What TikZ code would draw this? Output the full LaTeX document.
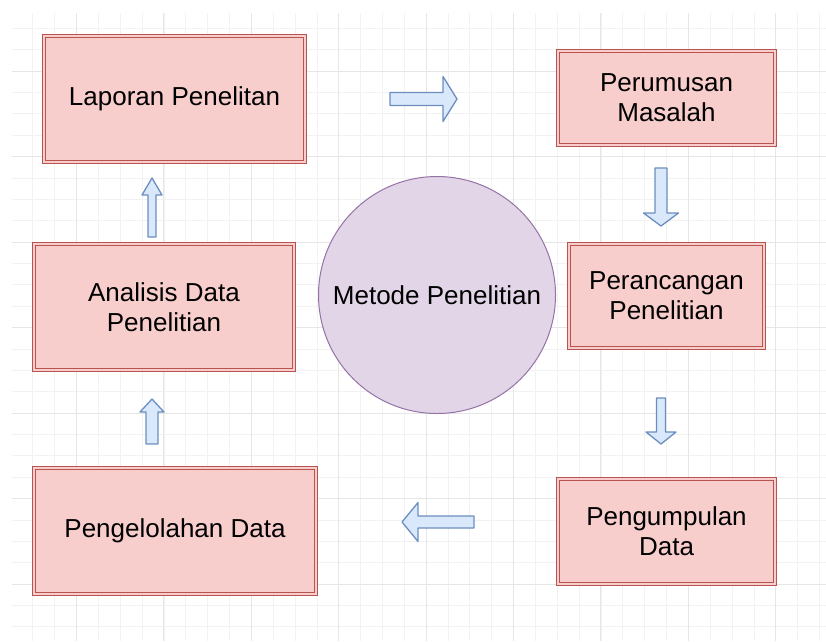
\documentclass[tikz,border=0pt]{standalone}
\usepackage{fontspec}
\setmainfont{Liberation Sans}
\usepackage{tikz}
\usetikzlibrary{positioning}
\definecolor{boxfill}{HTML}{F8CECC}
\definecolor{boxline}{HTML}{B85450}
\definecolor{circfill}{HTML}{E1D5E7}
\definecolor{circline}{HTML}{9673A6}
\definecolor{arrfill}{HTML}{DAE8FC}
\definecolor{arrline}{HTML}{6C8EBF}
\definecolor{gridmajor}{HTML}{E6E6E6}
\definecolor{gridminor}{HTML}{F2F2F2}
\tikzset{
    stepbox/.style={draw=boxline, line width=1.2pt, double=boxfill, double distance=2pt,
        fill=boxfill, align=center, inner sep=0pt, font=\fontsize{26}{30}\selectfont},
    methodcirc/.style={circle, draw=circline, line width=1pt, fill=circfill, minimum size=237pt,
        inner sep=0pt, font=\fontsize{26}{30}\selectfont},
    barrow/.style={draw=arrline, fill=arrfill, line width=1.3pt, line join=round},
}
% block arrow: length, shaft, head width, head length
\newcommand{\blockarrow}[5][]{%
    \draw[barrow, #1](0, -#3/2)--(#2-#5, -#3/2)--(#2-#5, -#4/2)--(#2, 0)--(#2-#5, #4/2)--(#2-#5, #3/2)--(0, #3/2)--cycle;}

\begin{document}
\begin{tikzpicture}[x=1pt, y=-1pt]
    \useasboundingbox (0, 0) rectangle (826, 641);
    % grid
    \begin{scope}
        \clip (12, 13) rectangle (826, 641);
        \foreach \i in {0,...,38}
            \draw[gridminor, line width=0.8pt](11+\i*21.85, 13)--(11+\i*21.85, 641);
        \foreach \i in {0,...,30}
            \draw[gridminor, line width=0.8pt](12, 6.9+\i*21.375)--(826, 6.9+\i*21.375);
        \foreach \i in {0,...,9}
            \draw[gridmajor, line width=1pt](76.5+\i*87.4, 13)--(76.5+\i*87.4, 641);
        \foreach \i in {0,...,7}
            \draw[gridmajor, line width=1pt](12, 71+\i*85.5)--(826, 71+\i*85.5);
    \end{scope}

    \node[stepbox, minimum width=261pt, minimum height=126pt] (laporan) at (174.5, 99) {Laporan Penelitan};
    \node[stepbox, minimum width=217pt, minimum height=94pt] (rumusan) at (666.5, 98) {Perumusan\\Masalah};
    \node[stepbox, minimum width=195pt, minimum height=104pt] (rancang) at (666.5, 296) {Perancangan\\Penelitian};
    \node[stepbox, minimum width=260pt, minimum height=126pt] (analisis) at (164, 307) {Analisis Data\\Penelitian};
    \node[stepbox, minimum width=282pt, minimum height=126pt] (olah) at (175, 531) {Pengelolahan Data};
    \node[stepbox, minimum width=217pt, minimum height=105pt] (kumpul) at (666.5, 531.5) {Pengumpulan\\Data};
    \node[methodcirc] (metode) at (437, 295) {Metode Penelitian};

    \blockarrow[shift={(390, 99)}]{67}{13}{45}{14}
    \blockarrow[shift={(661, 168)}, rotate=-90]{58}{12}{35}{13}
    \blockarrow[shift={(661, 398)}, rotate=-90]{46}{9}{30}{12}
    \blockarrow[shift={(474, 522)}, rotate=180]{72}{12}{39}{16}
    \blockarrow[shift={(152, 444)}, rotate=90]{45}{12}{24}{13}
    \blockarrow[shift={(152, 237)}, rotate=90]{59}{8}{20}{17}
\end{tikzpicture}
\end{document}
